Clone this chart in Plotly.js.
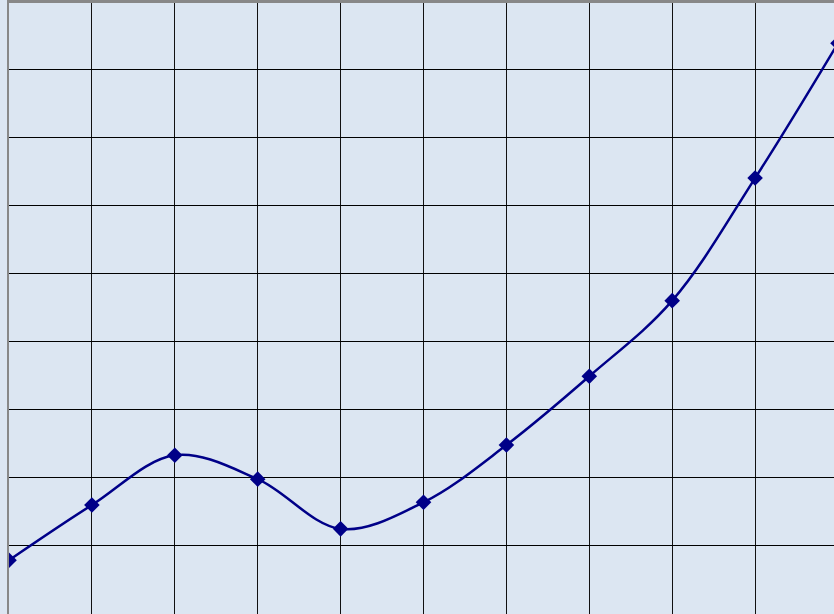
<!DOCTYPE html>
<html>
<head>
<meta charset="utf-8">
<script src="https://cdn.plot.ly/plotly-3.0.1.min.js"></script>
<style>
html,body{margin:0;padding:0;overflow:hidden;background:#dce6f2;}
#chart{width:838px;height:614px;}
</style>
</head>
<body>
<div id="chart"></div>
<script>
const xValues = [0, 1, 2, 3, 4, 5, 6, 7, 8, 9, 10];
const yValues = [0.79, 1.60, 2.33, 1.98, 1.25, 1.64, 2.48, 3.49, 4.60, 6.40, 8.38];

const trace = {
  x: xValues,
  y: yValues,
  type: 'scatter',
  mode: 'lines+markers',
  line: {color: '#000088', width: 2.5, shape: 'spline', smoothing: 1},
  marker: {symbol: 'diamond', size: 12, color: '#000088'},
  hoverinfo: 'none'
};

const layout = {
  width: 838,
  height: 614,
  margin: {l: 9, r: 0, t: 3, b: 0, pad: 0},
  paper_bgcolor: '#dce6f2',
  plot_bgcolor: '#dce6f2',
  showlegend: false,
  xaxis: {
    range: [0, 10],
    dtick: 1,
    side: 'top',
    showgrid: true,
    gridcolor: '#111111',
    gridwidth: 1,
    zeroline: false,
    showline: true,
    linecolor: '#888888',
    linewidth: 3,
    showticklabels: false,
    ticks: ''
  },
  yaxis: {
    range: [0, 8.97],
    dtick: 1,
    showgrid: true,
    gridcolor: '#000000',
    gridwidth: 1,
    zeroline: false,
    showline: true,
    linecolor: '#888888',
    linewidth: 2,
    showticklabels: false,
    ticks: ''
  }
};

Plotly.newPlot('chart', [trace], layout, {displayModeBar: false, staticPlot: true});
</script>
</body>
</html>
